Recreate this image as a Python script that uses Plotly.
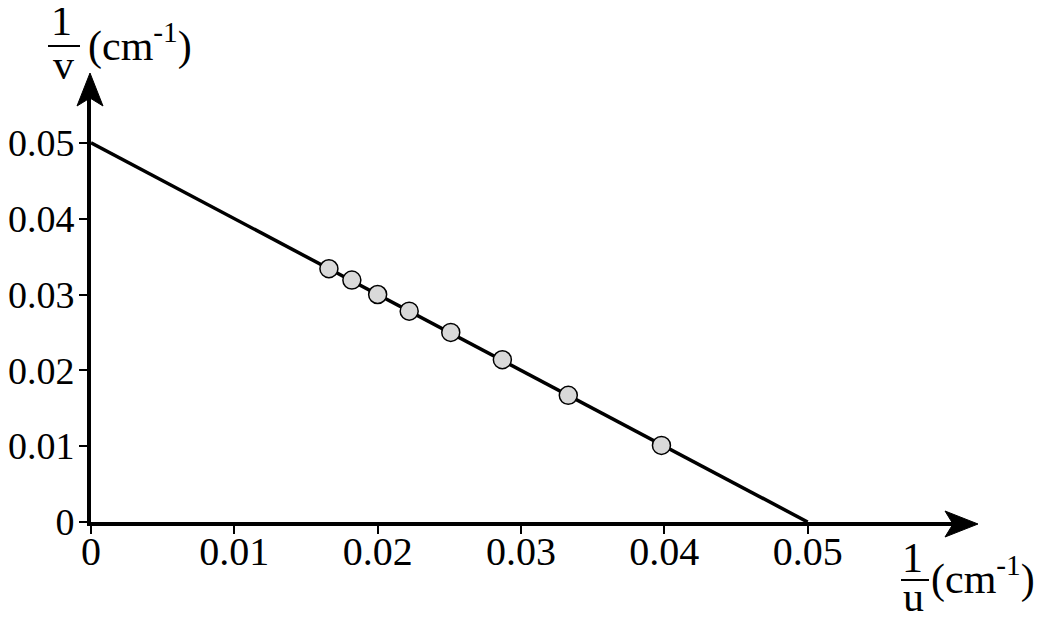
import plotly.graph_objects as go

# data
inv_u = [0.0166, 0.0182, 0.0200, 0.0222, 0.0251, 0.0287, 0.0333, 0.0398]
inv_v = [0.0334, 0.0319, 0.0300, 0.0278, 0.0250, 0.0214, 0.0167, 0.0101]
fit_x = [0.0, 0.05]
fit_y = [0.05, 0.0]
x_ticks = [0, 0.01, 0.02, 0.03, 0.04, 0.05]
x_tick_text = ["0", "0.01", "0.02", "0.03", "0.04", "0.05"]
y_ticks = [0, 0.01, 0.02, 0.03, 0.04, 0.05]
y_tick_text = ["0", "0.01", "0.02", "0.03", "0.04", "0.05"]

W, H = 1057, 628
OFF = 8                      # page body margin
DX0, DX1 = 91, 965           # plot area on screen, x
DY0, DY1 = 88, 522           # plot area on screen, y (top, bottom)
L, R = DX0 - OFF, W + OFF - DX1
T, B = DY0 - OFF, H + OFF - DY1
PXX = 14333.0   # pixels per unit, x
PXY = 7583.0    # pixels per unit, y
xmax = (DX1 - DX0) / PXX
ymax = (DY1 - DY0) / PXY

def px(sx):
    return (sx - DX0) / (DX1 - DX0)

def py(sy):
    return (DY1 - sy) / (DY1 - DY0)

FONT = "Liberation Serif"
TFS = 42

fig = go.Figure()
fig.add_trace(go.Scatter(x=fit_x, y=fit_y, mode="lines",
                         line=dict(color="black", width=3.5),
                         hoverinfo="skip", showlegend=False, cliponaxis=False))
fig.add_trace(go.Scatter(x=inv_u, y=inv_v, mode="markers",
                         marker=dict(size=18, color="#d9d9d9",
                                     line=dict(color="black", width=1.5)),
                         showlegend=False, cliponaxis=False))

axis_common = dict(showgrid=False, zeroline=False, showline=True,
                   linecolor="black", linewidth=4, ticks="outside",
                   ticklen=8, tickwidth=1.5, tickcolor="black",
                   automargin=False)

fig.update_xaxes(range=[0, xmax], tickvals=x_ticks, ticktext=x_tick_text,
                 ticklabelstandoff=-17,
                 tickfont=dict(family=FONT, size=40, color="black"),
                 **axis_common)
fig.update_yaxes(range=[0, ymax], tickvals=y_ticks, ticktext=y_tick_text,
                 ticklabelstandoff=-3,
                 tickfont=dict(family=FONT, size=38, color="black"),
                 **axis_common)

shapes = []
# x-axis arrow head (anchored at right end of plot area)
shapes.append(dict(type="path", xref="paper", yref="paper",
                   xsizemode="pixel", ysizemode="pixel",
                   xanchor=1, yanchor=0,
                   path="M 13,-2 L -20,11 L -12,-2 L -20,-15 Z",
                   fillcolor="black", line=dict(color="black", width=1)))
# y-axis arrow head
shapes.append(dict(type="path", xref="paper", yref="paper",
                   xsizemode="pixel", ysizemode="pixel",
                   xanchor=0, yanchor=1,
                   path="M -1,15 L -14,-18 L -1,-10 L 12,-18 Z",
                   fillcolor="black", line=dict(color="black", width=1)))
# fraction bars
shapes.append(dict(type="line", xref="paper", yref="paper",
                   x0=px(48), x1=px(80), y0=py(46), y1=py(46),
                   line=dict(color="black", width=2)))
shapes.append(dict(type="line", xref="paper", yref="paper",
                   x0=px(901), x1=px(929), y0=py(580), y1=py(580),
                   line=dict(color="black", width=2)))

tf = dict(family=FONT, size=TFS, color="black")
annotations = [
    dict(text="1", x=px(61), y=py(21), xref="paper", yref="paper",
         xanchor="center", yanchor="middle", showarrow=False, font=tf),
    dict(text="v", x=px(63), y=py(65), xref="paper", yref="paper",
         xanchor="center", yanchor="middle", showarrow=False, font=tf),
    dict(text="(cm<sup>-1</sup>)", x=px(86), y=py(43), xref="paper", yref="paper",
         xanchor="left", yanchor="middle", showarrow=False, font=tf),
    dict(text="1", x=px(912), y=py(558), xref="paper", yref="paper",
         xanchor="center", yanchor="middle", showarrow=False, font=tf),
    dict(text="u", x=px(913), y=py(597), xref="paper", yref="paper",
         xanchor="center", yanchor="middle", showarrow=False, font=tf),
    dict(text="(cm<sup>-1</sup>)", x=px(929), y=py(576), xref="paper", yref="paper",
         xanchor="left", yanchor="middle", showarrow=False, font=tf),
]

fig.update_layout(width=W, height=H, margin=dict(l=L, r=R, t=T, b=B),
                  plot_bgcolor="white", paper_bgcolor="white",
                  shapes=shapes, annotations=annotations, showlegend=False)

fig.write_html("out.html")
